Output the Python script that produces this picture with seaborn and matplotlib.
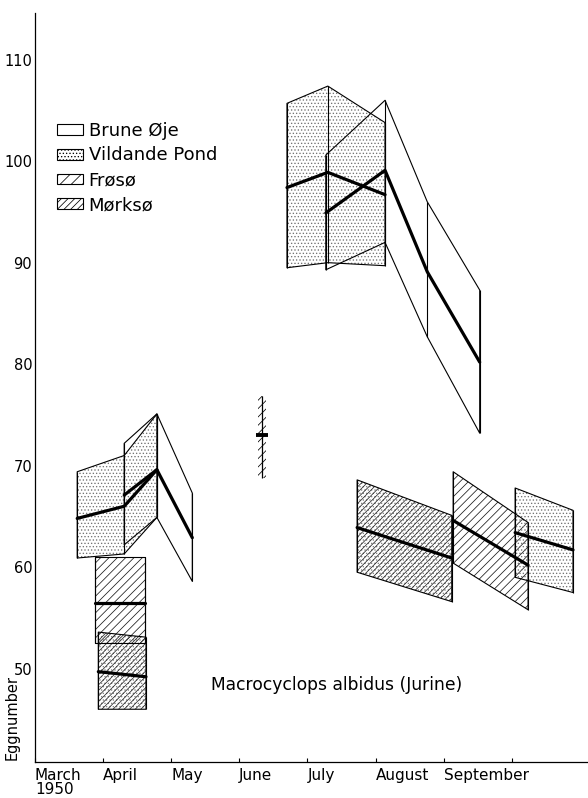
import matplotlib
matplotlib.use("Agg")
import matplotlib.pyplot as plt
from matplotlib.patches import Patch
import seaborn as sns
import pandas as pd

# x = months after 1 March 1950 (0 = March, 1 = April, ...)
month_labels = ["March\n1950", "April", "May", "June", "July", "August", "September", ""]
y_ticks = [50, 60, 70, 80, 90, 100, 110]

# Brune Øje
brune_a_x = [1.31, 1.79, 2.31]
brune_a_hi = [72.2, 75.1, 67.3]
brune_a_mean = [67.1, 69.6, 62.9]
brune_a_lo = [62.2, 64.9, 58.6]

brune_b_x = [4.27, 5.14, 5.76, 6.53]
brune_b_hi = [100.6, 106.0, 96.0, 87.3]
brune_b_mean = [94.9, 99.1, 89.1, 80.2]
brune_b_lo = [89.3, 92.0, 82.7, 73.2]

# Vildande Pond
vild_a_x = [0.62, 1.31, 1.79]
vild_a_hi = [69.4, 71.0, 75.1]
vild_a_mean = [64.8, 66.0, 69.6]
vild_a_lo = [60.9, 61.3, 64.9]

vild_b_x = [3.70, 4.30, 5.14]
vild_b_hi = [105.7, 107.4, 103.8]
vild_b_mean = [97.4, 98.9, 96.7]
vild_b_lo = [89.5, 90.0, 89.7]

vild_c_x = [7.05, 7.90]
vild_c_hi = [67.8, 65.6]
vild_c_mean = [63.4, 61.7]
vild_c_lo = [59.0, 57.5]

# Frøsø
fros_a_x = [0.88, 1.62]
fros_a_hi = [61.0, 61.0]
fros_a_mean = [56.5, 56.5]
fros_a_lo = [52.5, 52.5]

fros_b_x = [3.33]
fros_b_hi = [76.9]
fros_b_mean = [73.0]
fros_b_lo = [68.8]

fros_c_x = [6.14, 7.24]
fros_c_hi = [69.4, 64.4]
fros_c_mean = [64.6, 60.2]
fros_c_lo = [60.4, 55.8]

# Mørksø
mork_a_x = [0.93, 1.63]
mork_a_hi = [53.6, 53.1]
mork_a_mean = [49.7, 49.2]
mork_a_lo = [46.0, 46.0]

mork_b_x = [4.73, 6.12]
mork_b_hi = [68.6, 65.1]
mork_b_mean = [63.9, 60.9]
mork_b_lo = [59.5, 56.6]

sns.set_style("white")
plt.rcParams["font.family"] = ["DejaVu Sans"]
plt.rcParams["hatch.linewidth"] = 0.55
for k in ["text.color", "axes.labelcolor", "xtick.color", "ytick.color", "axes.edgecolor"]:
    plt.rcParams[k] = "black"

NARROW = "Liberation Sans Narrow"

# each style: list of (hatch, colour) layers
LAYERS = {
    "brune": [],
    "vild": [(".....", "0.45")],
    "fros": [("////", "0.1")],
    "mork": [(".....", "0.5"), ("//////", "0.15")],
}

fig = plt.figure(figsize=(5.88, 7.98), dpi=100)
ax = fig.add_axes([0.0595, 0.0451, 0.9405, 0.9386])

groups = [
    ("vild", vild_a_x, vild_a_lo, vild_a_mean, vild_a_hi),
    ("brune", brune_a_x, brune_a_lo, brune_a_mean, brune_a_hi),
    ("fros", fros_a_x, fros_a_lo, fros_a_mean, fros_a_hi),
    ("mork", mork_a_x, mork_a_lo, mork_a_mean, mork_a_hi),
    ("vild", vild_b_x, vild_b_lo, vild_b_mean, vild_b_hi),
    ("brune", brune_b_x, brune_b_lo, brune_b_mean, brune_b_hi),
    ("mork", mork_b_x, mork_b_lo, mork_b_mean, mork_b_hi),
    ("fros", fros_c_x, fros_c_lo, fros_c_mean, fros_c_hi),
    ("vild", vild_c_x, vild_c_lo, vild_c_mean, vild_c_hi),
]

rows = []
for i, (name, x, lo, mean, hi) in enumerate(groups):
    for h, c in LAYERS[name]:
        ax.fill_between(x, lo, hi, facecolor="none", edgecolor=c,
                        hatch=h, linewidth=0, zorder=1)
    ax.fill_between(x, lo, hi, facecolor="none", edgecolor="black",
                    linewidth=0.8, zorder=2)
    ax.vlines(x, lo, hi, color="black", linewidth=0.8, zorder=2)
    for xi, mi in zip(x, mean):
        rows.append({"seg": i, "month": xi, "mean": mi})

df = pd.DataFrame(rows)
sns.lineplot(data=df, x="month", y="mean", units="seg", estimator=None,
             sort=False, color="black", linewidth=2.3, ax=ax, legend=False,
             zorder=3)

# Frøsø single June sample
ax.bar(fros_b_x, [h - l for h, l in zip(fros_b_hi, fros_b_lo)], bottom=fros_b_lo,
       width=0.11, fill=False, hatch="////", edgecolor="black", linewidth=0, zorder=1)
ax.vlines(fros_b_x, fros_b_lo, fros_b_hi, color="black", linewidth=0.9, zorder=2)
ax.plot(fros_b_x, fros_b_mean, linestyle="none", marker="_", markersize=9,
        markeredgewidth=2.8, color="black", zorder=3)

ax.set_xlim(0, 8.12)
ax.set_ylim(40.8, 114.6)
ax.set_xticks(range(len(month_labels)))
ax.set_xticklabels(month_labels, ha="left", fontsize=11, linespacing=0.95)
ax.set_yticks(y_ticks)
ax.set_yticklabels([str(v) for v in y_ticks], fontsize=10.5)
ax.tick_params(axis="x", direction="in", length=3, width=0.8, pad=4, bottom=True)
ax.tick_params(axis="y", length=0, pad=2)
for lab in ax.get_xticklabels():
    lab.set_multialignment("left")
    lab.set_fontfamily(NARROW)
for lab in ax.get_yticklabels():
    lab.set_fontfamily(NARROW)

for s in ["top", "right"]:
    ax.spines[s].set_visible(False)
for s in ["left", "bottom"]:
    ax.spines[s].set_linewidth(0.9)
    ax.spines[s].set_color("black")

ax.set_xlabel("")
ax.set_ylabel("Eggnumber", family=NARROW, fontsize=10.5)
ax.yaxis.set_label_coords(-0.027, 0.059)

ax.text(0.546, 0.103, "Macrocyclops albidus (Jurine)", transform=ax.transAxes,
        ha="center", va="center", fontsize=12.3)

handles = [
    Patch(facecolor="white", edgecolor="black", linewidth=0.8, label="Brune Øje"),
    Patch(facecolor="none", edgecolor="black", hatch=".....", linewidth=0.8, label="Vildande Pond"),
    Patch(facecolor="none", edgecolor="black", hatch="///", linewidth=0.8, label="Frøsø"),
    Patch(facecolor="none", edgecolor="black", hatch="/////", linewidth=0.8, label="Mørksø"),
]
ax.legend(handles=handles, loc="upper left", bbox_to_anchor=(0.04, 0.855),
          frameon=False, fontsize=13, handlelength=1.45, handleheight=0.55,
          handletextpad=0.3, labelspacing=0.38, borderaxespad=0, borderpad=0)

fig.savefig("out.png", dpi=100)
